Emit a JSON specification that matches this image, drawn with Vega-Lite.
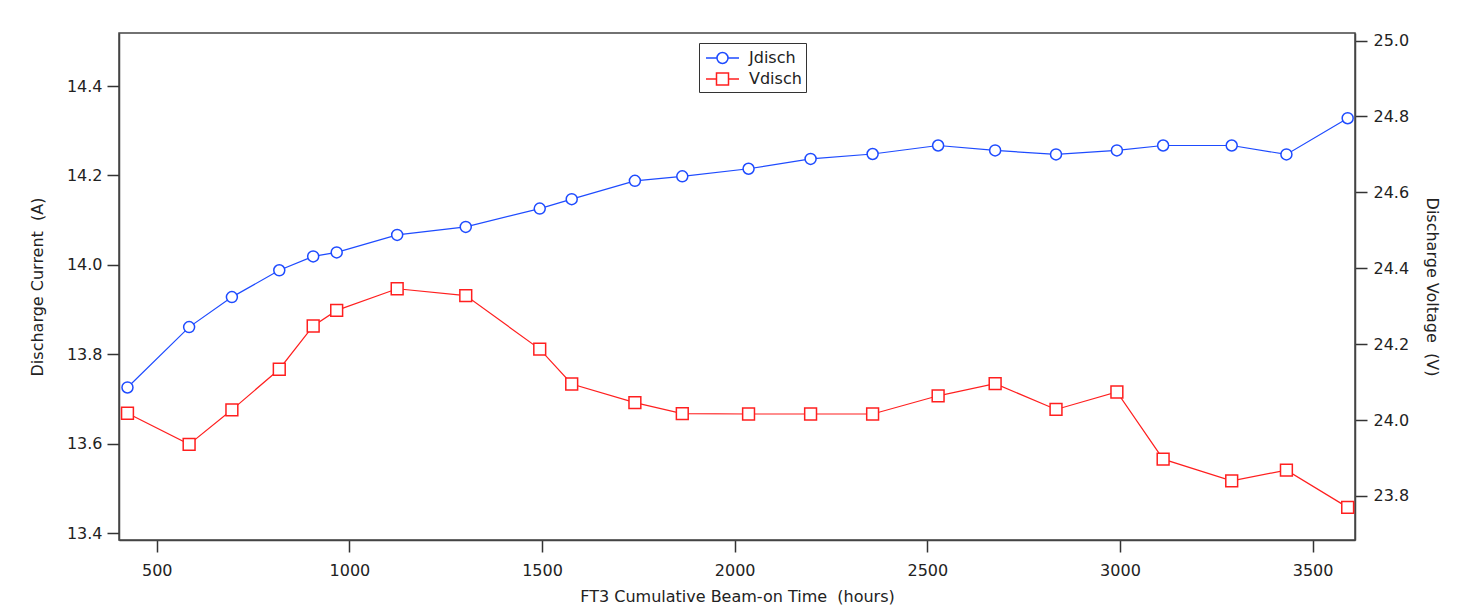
{
  "$schema": "https://vega.github.io/schema/vega-lite/v6.json",
  "width": 1236,
  "height": 507,
  "autosize": {"type": "none"},
  "padding": {"left": 119, "top": 33, "right": 120, "bottom": 67},
  "background": "white",
  "config": {
    "view": {"stroke": "#444", "strokeWidth": 1.5},
    "axis": {
      "grid": false,
      "domainColor": "#444",
      "domainWidth": 1.5,
      "tickColor": "#333",
      "tickWidth": 1.5,
      "tickSize": 12,
      "labelFont": "DejaVu Sans",
      "labelFontSize": 16,
      "labelColor": "#222",
      "titleFont": "DejaVu Sans",
      "titleFontSize": 16,
      "titleFontWeight": "normal",
      "titleColor": "#222"
    },
    "legend": {
      "labelFont": "DejaVu Sans",
      "labelFontSize": 16,
      "labelColor": "#222"
    }
  },
  "data": {
    "values": [
      {"t": 424, "series": "Jdisch", "value": 13.726},
      {"t": 584, "series": "Jdisch", "value": 13.861},
      {"t": 695, "series": "Jdisch", "value": 13.928},
      {"t": 818, "series": "Jdisch", "value": 13.988},
      {"t": 906, "series": "Jdisch", "value": 14.019},
      {"t": 967, "series": "Jdisch", "value": 14.028},
      {"t": 1124, "series": "Jdisch", "value": 14.067},
      {"t": 1302, "series": "Jdisch", "value": 14.085},
      {"t": 1494, "series": "Jdisch", "value": 14.126},
      {"t": 1577, "series": "Jdisch", "value": 14.147},
      {"t": 1741, "series": "Jdisch", "value": 14.188},
      {"t": 1864, "series": "Jdisch", "value": 14.198},
      {"t": 2036, "series": "Jdisch", "value": 14.215},
      {"t": 2197, "series": "Jdisch", "value": 14.237},
      {"t": 2358, "series": "Jdisch", "value": 14.248},
      {"t": 2528, "series": "Jdisch", "value": 14.267},
      {"t": 2676, "series": "Jdisch", "value": 14.256},
      {"t": 2834, "series": "Jdisch", "value": 14.247},
      {"t": 2992, "series": "Jdisch", "value": 14.256},
      {"t": 3112, "series": "Jdisch", "value": 14.267},
      {"t": 3290, "series": "Jdisch", "value": 14.267},
      {"t": 3432, "series": "Jdisch", "value": 14.247},
      {"t": 3591, "series": "Jdisch", "value": 14.328},
      {"t": 424, "series": "Vdisch", "value": 24.018},
      {"t": 584, "series": "Vdisch", "value": 23.936},
      {"t": 695, "series": "Vdisch", "value": 24.027},
      {"t": 818, "series": "Vdisch", "value": 24.134},
      {"t": 906, "series": "Vdisch", "value": 24.248},
      {"t": 967, "series": "Vdisch", "value": 24.289},
      {"t": 1124, "series": "Vdisch", "value": 24.346},
      {"t": 1302, "series": "Vdisch", "value": 24.328},
      {"t": 1494, "series": "Vdisch", "value": 24.187},
      {"t": 1577, "series": "Vdisch", "value": 24.095},
      {"t": 1741, "series": "Vdisch", "value": 24.046},
      {"t": 1864, "series": "Vdisch", "value": 24.017},
      {"t": 2036, "series": "Vdisch", "value": 24.016},
      {"t": 2197, "series": "Vdisch", "value": 24.016},
      {"t": 2358, "series": "Vdisch", "value": 24.016},
      {"t": 2528, "series": "Vdisch", "value": 24.064},
      {"t": 2676, "series": "Vdisch", "value": 24.096},
      {"t": 2834, "series": "Vdisch", "value": 24.028},
      {"t": 2992, "series": "Vdisch", "value": 24.074},
      {"t": 3112, "series": "Vdisch", "value": 23.897},
      {"t": 3290, "series": "Vdisch", "value": 23.84},
      {"t": 3432, "series": "Vdisch", "value": 23.868},
      {"t": 3591, "series": "Vdisch", "value": 23.77}
    ]
  },
  "encoding": {
    "x": {
      "field": "t",
      "type": "quantitative",
      "scale": {"domain": [402, 3610], "nice": false, "zero": false},
      "axis": {
        "title": "FT3 Cumulative Beam-on Time \u00a0(hours)",
        "values": [500, 1000, 1500, 2000, 2500, 3000, 3500],
        "format": "d",
        "labelPadding": 10,
        "titlePadding": 10
      }
    }
  },
  "layer": [
    {
      "encoding": {
        "y": {
          "field": "value",
          "type": "quantitative",
          "scale": {"domain": [13.385, 14.5185], "nice": false, "zero": false},
          "axis": {
            "orient": "left",
            "title": "Discharge Current \u00a0(A)",
            "values": [13.4, 13.6, 13.8, 14.0, 14.2, 14.4],
            "format": ".1f",
            "labelPadding": 5,
            "titlePadding": 21
          }
        }
      },
      "layer": [
        {
          "transform": [{"filter": "datum.series === 'Jdisch'"}],
          "mark": {"type": "line", "color": "#1e4bff", "strokeWidth": 1.2}
        },
        {
          "transform": [{"filter": "datum.series === 'Jdisch'"}],
          "mark": {"type": "point", "shape": "circle", "size": 121, "filled": true, "fill": "white", "stroke": "#1e4bff", "strokeWidth": 1.5, "opacity": 1}
        },
        {
          "mark": {"type": "point", "opacity": 0, "clip": true, "filled": true, "fill": "white", "strokeWidth": 1.5},
          "encoding": {
            "stroke": {
              "field": "series",
              "type": "nominal",
              "scale": {"domain": ["Jdisch", "Vdisch"], "range": ["#1e4bff", "#ff1f1f"]},
              "legend": {
                "title": null,
                "orient": "none",
                "legendX": 580,
                "legendY": 10,
                "padding": 4,
                "strokeColor": "#333",
                "fillColor": "white",
                "symbolSize": 400,
                "symbolOpacity": 1,
                "symbolFillColor": "white",
                "symbolStrokeWidth": 1.5,
                "labelOffset": 24,
                "rowPadding": 1
              }
            },
            "shape": {
              "field": "series",
              "type": "nominal",
              "scale": {
                "domain": ["Jdisch", "Vdisch"],
                "range": [
                  "M-0.8,0H0.3M1.4,0H2.5M0.3,0A0.55,0.55,0,1,0,1.4,0A0.55,0.55,0,1,0,0.3,0Z",
                  "M-0.8,0H0.25M1.45,0H2.5M0.25,-0.6H1.45V0.6H0.25Z"
                ]
              }
            }
          }
        }
      ]
    },
    {
      "transform": [{"filter": "datum.series === 'Vdisch'"}],
      "encoding": {
        "y": {
          "field": "value",
          "type": "quantitative",
          "scale": {"domain": [23.684, 25.02], "nice": false, "zero": false},
          "axis": {
            "orient": "right",
            "title": "Discharge Voltage \u00a0(V)",
            "values": [23.8, 24.0, 24.2, 24.4, 24.6, 24.8, 25.0],
            "format": ".1f",
            "labelPadding": 6,
            "titlePadding": 15
          }
        }
      },
      "layer": [
        {"mark": {"type": "line", "color": "#ff1f1f", "strokeWidth": 1.2}},
        {"mark": {"type": "point", "shape": "square", "size": 140, "filled": true, "fill": "white", "stroke": "#ff1f1f", "strokeWidth": 1.5, "opacity": 1}}
      ]
    }
  ],
  "resolve": {"scale": {"y": "independent"}}
}
